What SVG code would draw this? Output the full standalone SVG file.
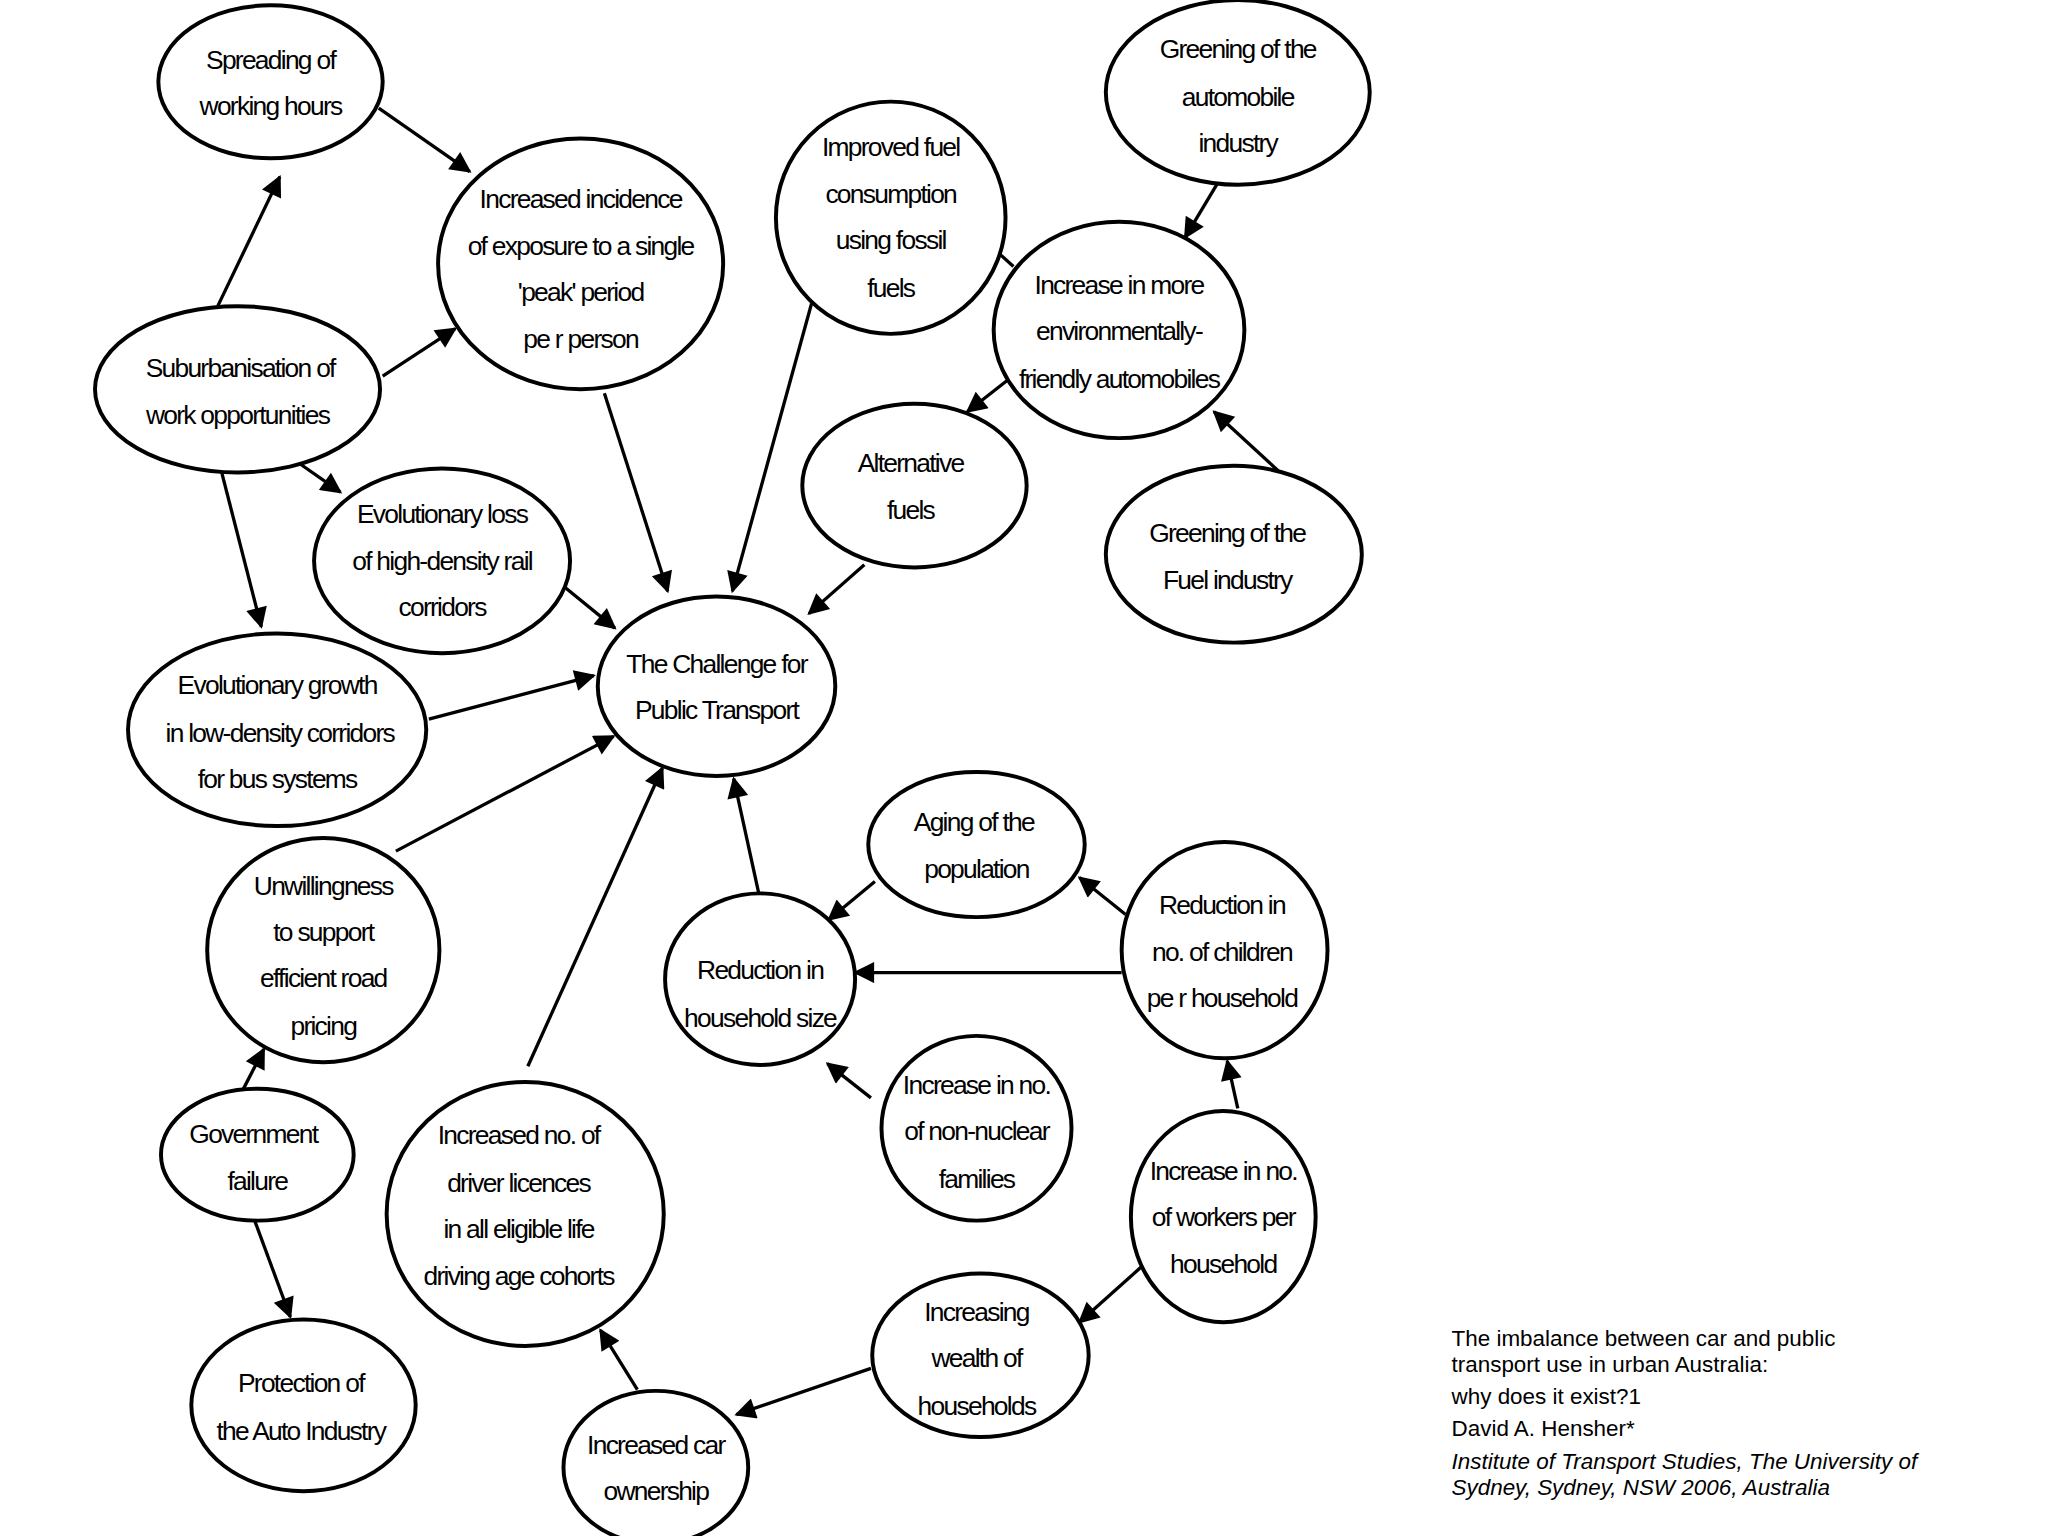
<svg xmlns="http://www.w3.org/2000/svg" width="2048" height="1536" viewBox="0 0 2048 1536">
<style>
.n ellipse{fill:#fff;stroke:#000;stroke-width:3}
.n text{font-family:"Liberation Sans Narrow","Liberation Sans",sans-serif;font-size:20px;text-anchor:middle;letter-spacing:-1.3px}
#edges line{stroke:#000;stroke-width:2.5}
.cap{font-family:"Liberation Sans",Arial,sans-serif;font-size:17px}
</style>
<defs><marker id="a" viewBox="0 0 10 10" refX="9" refY="5" markerWidth="20" markerHeight="16" markerUnits="userSpaceOnUse" orient="auto"><path d="M0,0L10,5L0,10z"/></marker></defs>
<rect width="2048" height="1536" fill="#fff"/>
<g transform="scale(1.3196)">
<g id="edges">
<line x1="287" y1="82" x2="356" y2="130" marker-end="url(#a)"/>
<line x1="165" y1="232" x2="212" y2="134" marker-end="url(#a)"/>
<line x1="290" y1="285" x2="345" y2="249" marker-end="url(#a)"/>
<line x1="228" y1="352" x2="258" y2="373" marker-end="url(#a)"/>
<line x1="168" y1="358" x2="198" y2="475" marker-end="url(#a)"/>
<line x1="458" y1="298" x2="506" y2="448" marker-end="url(#a)"/>
<line x1="615" y1="230" x2="555" y2="448" marker-end="url(#a)"/>
<line x1="757" y1="192" x2="768" y2="202"/>
<line x1="925" y1="135" x2="898" y2="180" marker-end="url(#a)"/>
<line x1="770" y1="283" x2="733" y2="312" marker-end="url(#a)"/>
<line x1="970" y1="358" x2="920" y2="312" marker-end="url(#a)"/>
<line x1="655" y1="428" x2="613" y2="465" marker-end="url(#a)"/>
<line x1="428" y1="445" x2="466" y2="476" marker-end="url(#a)"/>
<line x1="325" y1="545" x2="450" y2="512" marker-end="url(#a)"/>
<line x1="300" y1="645" x2="465" y2="558" marker-end="url(#a)"/>
<line x1="183" y1="828" x2="200" y2="795" marker-end="url(#a)"/>
<line x1="193" y1="925" x2="220" y2="998" marker-end="url(#a)"/>
<line x1="400" y1="808" x2="502" y2="582" marker-end="url(#a)"/>
<line x1="575" y1="677" x2="556" y2="590" marker-end="url(#a)"/>
<line x1="663" y1="668" x2="628" y2="697" marker-end="url(#a)"/>
<line x1="853" y1="693" x2="818" y2="665" marker-end="url(#a)"/>
<line x1="850" y1="737" x2="648" y2="737" marker-end="url(#a)"/>
<line x1="660" y1="832" x2="627" y2="806" marker-end="url(#a)"/>
<line x1="938" y1="840" x2="930" y2="804" marker-end="url(#a)"/>
<line x1="865" y1="960" x2="818" y2="1002" marker-end="url(#a)"/>
<line x1="660" y1="1037" x2="558" y2="1072" marker-end="url(#a)"/>
<line x1="483" y1="1053" x2="455" y2="1008" marker-end="url(#a)"/>
</g>
<g id="n1" class="n"><ellipse cx="205" cy="62" rx="85" ry="58"/><text x="205" y="52">Spreading of</text><text x="205" y="87">working hours</text></g>
<g id="n2" class="n"><ellipse cx="440" cy="200" rx="108" ry="95"/><text x="440" y="158">Increased incidence</text><text x="440" y="193">of exposure to a single</text><text x="440" y="228">'peak' period</text><text x="440" y="264">pe r person</text></g>
<g id="n3" class="n"><ellipse cx="675" cy="165" rx="87" ry="88"/><text x="675" y="118">Improved fuel</text><text x="675" y="154">consumption</text><text x="675" y="189">using fossil</text><text x="675" y="225">fuels</text></g>
<g id="n4" class="n"><ellipse cx="938" cy="70" rx="100" ry="70"/><text x="938" y="44">Greening of the</text><text x="938" y="80">automobile</text><text x="938" y="115">industry</text></g>
<g id="n5" class="n"><ellipse cx="848" cy="250" rx="95" ry="82"/><text x="848" y="223">Increase in more</text><text x="848" y="258">environmentally-</text><text x="848" y="294">friendly automobiles</text></g>
<g id="n6" class="n"><ellipse cx="180" cy="295" rx="108" ry="63"/><text x="182" y="286">Suburbanisation of</text><text x="180" y="321">work opportunities</text></g>
<g id="n7" class="n"><ellipse cx="693" cy="368" rx="85" ry="62"/><text x="690" y="358">Alternative</text><text x="690" y="393">fuels</text></g>
<g id="n8" class="n"><ellipse cx="935" cy="420" rx="97" ry="67"/><text x="930" y="411">Greening of the</text><text x="930" y="446">Fuel industry</text></g>
<g id="n9" class="n"><ellipse cx="335" cy="425" rx="97" ry="70"/><text x="335" y="396">Evolutionary loss</text><text x="335" y="432">of high-density rail</text><text x="335" y="467">corridors</text></g>
<g id="n10" class="n"><ellipse cx="543" cy="520" rx="90" ry="68"/><text x="543" y="510">The Challenge for</text><text x="543" y="545">Public Transport</text></g>
<g id="n11" class="n"><ellipse cx="210" cy="553" rx="113" ry="73"/><text x="210" y="526">Evolutionary growth</text><text x="212" y="562">in low-density corridors</text><text x="210" y="597">for bus systems</text></g>
<g id="n12" class="n"><ellipse cx="740" cy="640" rx="82" ry="55"/><text x="738" y="630">Aging  of  the</text><text x="740" y="665">population</text></g>
<g id="n13" class="n"><ellipse cx="245" cy="720" rx="88" ry="85"/><text x="245" y="678">Unwillingness</text><text x="245" y="713">to support</text><text x="245" y="748">efficient road</text><text x="245" y="784">pricing</text></g>
<g id="n14" class="n"><ellipse cx="576" cy="742" rx="72" ry="65"/><text x="576" y="742">Reduction in</text><text x="576" y="778">household size</text></g>
<g id="n15" class="n"><ellipse cx="928" cy="720" rx="78" ry="82"/><text x="926" y="693">Reduction in</text><text x="926" y="728">no. of children</text><text x="926" y="763">pe r household</text></g>
<g id="n16" class="n"><ellipse cx="740" cy="855" rx="72" ry="70"/><text x="740" y="829">Increase in no.</text><text x="740" y="864">of non-nuclear</text><text x="740" y="900">families</text></g>
<g id="n17" class="n"><ellipse cx="195" cy="875" rx="73" ry="50"/><text x="192" y="866">Government</text><text x="195" y="902">failure</text></g>
<g id="n18" class="n"><ellipse cx="398" cy="920" rx="105" ry="100"/><text x="393" y="867">Increased no. of</text><text x="393" y="903">driver licences</text><text x="393" y="938">in all eligible life</text><text x="393" y="974">driving age cohorts</text></g>
<g id="n19" class="n"><ellipse cx="927" cy="922" rx="70" ry="80"/><text x="927" y="894">Increase in no.</text><text x="927" y="929">of workers per</text><text x="927" y="965">household</text></g>
<g id="n20" class="n"><ellipse cx="743" cy="1027" rx="82" ry="62"/><text x="740" y="1001">Increasing</text><text x="740" y="1036">wealth of</text><text x="740" y="1072">households</text></g>
<g id="n21" class="n"><ellipse cx="230" cy="1065" rx="85" ry="65"/><text x="228" y="1055">Protection of</text><text x="228" y="1091">the Auto Industry</text></g>
<g id="n22" class="n"><ellipse cx="497" cy="1112" rx="70" ry="58"/><text x="497" y="1102">Increased car</text><text x="497" y="1137">ownership</text></g>
<g id="caption">
<text class="cap" x="1100" y="1020">The imbalance between car and public</text>
<text class="cap" x="1100" y="1040">transport use in urban Australia:</text>
<text class="cap" x="1100" y="1064">why does it exist?1</text>
<text class="cap" x="1100" y="1088">David A. Hensher*</text>
<text class="cap" x="1100" y="1113" font-style="italic">Institute of Transport Studies, The University of</text>
<text class="cap" x="1100" y="1133" font-style="italic">Sydney, Sydney, NSW 2006, Australia</text>
</g>
</g>
</svg>
